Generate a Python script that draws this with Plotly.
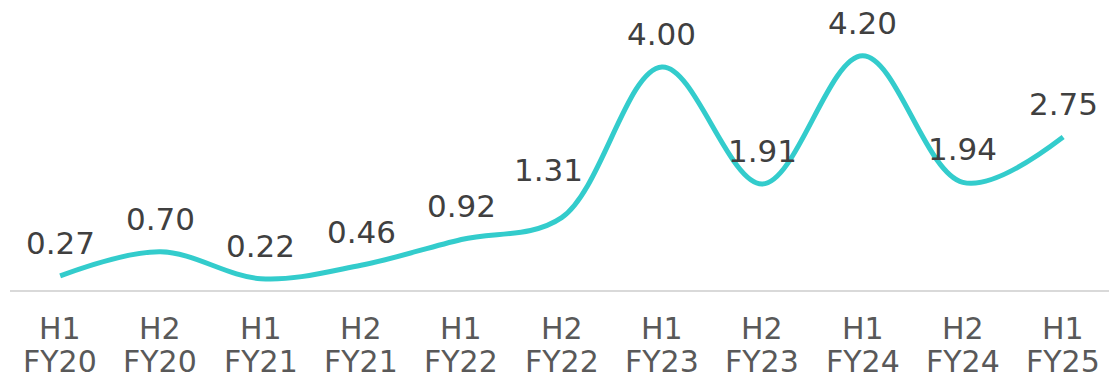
import plotly.graph_objects as go

periods = ["H1", "H2", "H1", "H2", "H1", "H2", "H1", "H2", "H1", "H2", "H1"]
years = ["FY20", "FY20", "FY21", "FY21", "FY22", "FY22", "FY23", "FY23", "FY24", "FY24", "FY25"]
values = [0.27, 0.70, 0.22, 0.46, 0.92, 1.31, 4.00, 1.91, 4.20, 1.94, 2.75]

x = list(range(len(values)))
labels = [f"{v:.2f}" for v in values]

FONT = "DejaVu Sans"

fig = go.Figure()
fig.add_trace(go.Scatter(
    x=x, y=values,
    mode="lines",
    line=dict(color="#33CCCC", width=5, shape="spline", smoothing=1.0),
    hoverinfo="skip",
))

# data labels above points (the H2 FY22 label sits a little higher and left)
for i, (xi, v, lab) in enumerate(zip(x, values, labels)):
    xs, ys = (-13, 48) if i == 5 else (0, 33)
    fig.add_annotation(
        x=xi, y=v, xref="x", yref="y", text=lab, showarrow=False,
        yanchor="middle", xanchor="center", yshift=ys, xshift=xs,
        font=dict(family=FONT, size=31, color="#404040"),
    )

# two-row category labels
for xi, p, yr in zip(x, periods, years):
    fig.add_annotation(
        x=xi, y=0, xref="x", yref="paper", text=p, showarrow=False,
        yanchor="middle", xanchor="center", yshift=-37, borderpad=0,
        font=dict(family=FONT, size=30, color="#595959"),
    )
    fig.add_annotation(
        x=xi, y=0, xref="x", yref="paper", text=yr, showarrow=False,
        yanchor="middle", xanchor="center", yshift=-70, borderpad=0,
        font=dict(family=FONT, size=30, color="#595959"),
    )

fig.update_layout(
    width=1109, height=379,
    margin=dict(l=10, r=0, t=0, b=88),
    paper_bgcolor="white", plot_bgcolor="white",
    showlegend=False,
    font=dict(family=FONT),
)
fig.update_xaxes(
    range=[-0.5, 10.457],
    showticklabels=False,
    showgrid=False, zeroline=False,
    showline=False, ticks="",
)
fig.update_yaxes(
    range=[0, 5.196],
    showgrid=False, showticklabels=False,
    zeroline=True, zerolinecolor="#D9D9D9", zerolinewidth=2,
    showline=False, ticks="",
)

fig.write_html("out.html")
